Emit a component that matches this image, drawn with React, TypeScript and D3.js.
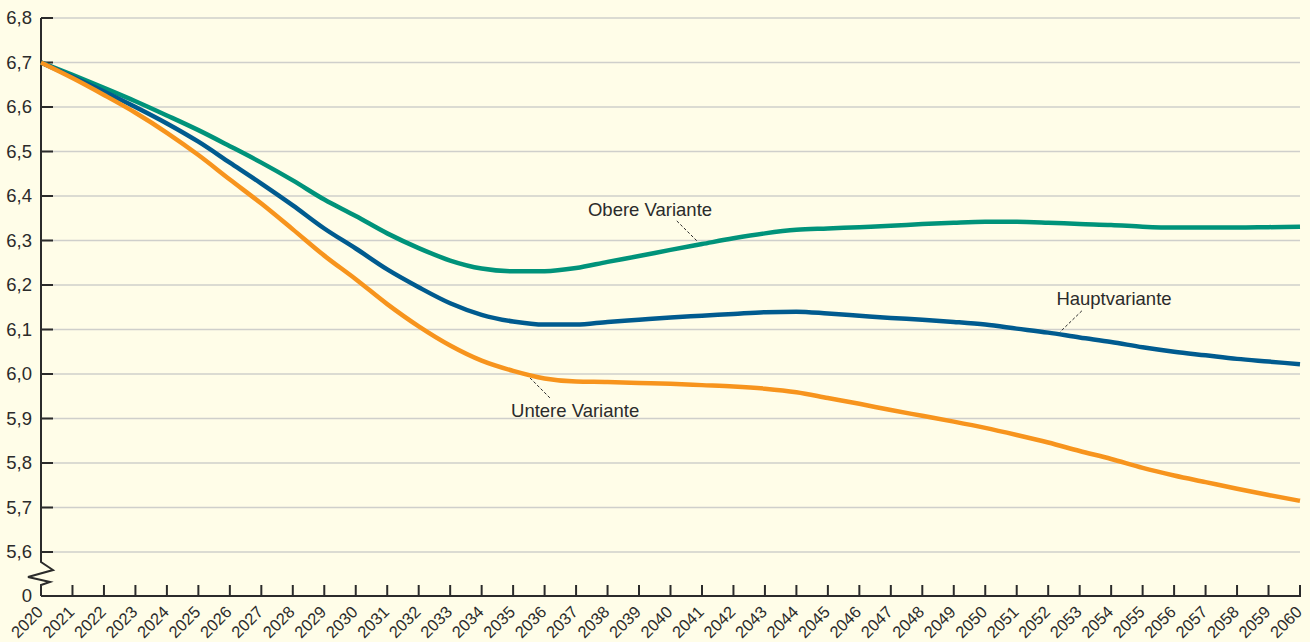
import React, { useEffect, useRef } from "react";
import { select, scaleLinear, line, curveMonotoneX, range } from "d3";

// years 2020..2060
const years = range(2020, 2061);

const obereVariante = [
  6.70, 6.672, 6.643, 6.613, 6.581, 6.548, 6.512, 6.475, 6.435, 6.392,
  6.355, 6.316, 6.283, 6.255, 6.237, 6.231, 6.231, 6.238, 6.252, 6.265,
  6.279, 6.292, 6.305, 6.316, 6.324, 6.327, 6.330, 6.333, 6.337, 6.340,
  6.342, 6.342, 6.340, 6.337, 6.335, 6.331, 6.329, 6.329, 6.329, 6.330,
  6.331
];

const hauptvariante = [
  6.70, 6.668, 6.635, 6.600, 6.563, 6.522, 6.475, 6.428, 6.379, 6.327,
  6.282, 6.235, 6.195, 6.159, 6.133, 6.118, 6.111, 6.111, 6.117, 6.122,
  6.127, 6.131, 6.135, 6.139, 6.140, 6.136, 6.131, 6.126, 6.122, 6.117,
  6.111, 6.102, 6.093, 6.082, 6.072, 6.060, 6.050, 6.042, 6.034, 6.028,
  6.022
];

const untereVariante = [
  6.70, 6.665, 6.627, 6.587, 6.542, 6.492, 6.437, 6.383, 6.325, 6.266,
  6.213, 6.157, 6.107, 6.064, 6.030, 6.007, 5.990, 5.983, 5.982, 5.980,
  5.978, 5.975, 5.972, 5.967, 5.959, 5.946, 5.933, 5.919, 5.906, 5.893,
  5.879, 5.863, 5.846, 5.827, 5.809, 5.789, 5.772, 5.757, 5.742, 5.728,
  5.715
];

const yTicks = [5.6, 5.7, 5.8, 5.9, 6.0, 6.1, 6.2, 6.3, 6.4, 6.5, 6.6, 6.7, 6.8];

const series = [
  { name: "Obere Variante", values: obereVariante, color: "#00937a" },
  { name: "Hauptvariante", values: hauptvariante, color: "#005b8f" },
  { name: "Untere Variante", values: untereVariante, color: "#f7941d" }
];

// label text, label centre (year, value), leader line from/to (year, value)
const labels = [
  { text: "Obere Variante", at: [2039.35, 6.369], from: [2040.2, 6.344], to: [2040.87, 6.297] },
  { text: "Untere Variante", at: [2036.97, 5.919], from: [2035.54, 5.991], to: [2036.2, 5.944] },
  { text: "Hauptvariante", at: [2054.09, 6.169], from: [2053.07, 6.142], to: [2052.37, 6.094] }
];

const fontFamily = "'Liberation Sans', Arial, sans-serif";
const fontSize = 18.5;

function App() {
  const svgRef = useRef(null);

  useEffect(() => {
    const width = 1310;
    const height = 642;
    const left = 41;
    const right = 1300;
    const axisY = 596;

    const svg = select(svgRef.current)
      .attr("width", width)
      .attr("height", height);
    svg.selectAll("*").remove();

    const x = scaleLinear().domain([2020, 2060]).range([left, right]);
    const y = scaleLinear().domain([5.6, 6.8]).range([552, 18]);

    svg.append("rect")
      .attr("width", width)
      .attr("height", height)
      .attr("fill", "#fffde8");

    // gridlines
    svg.append("g")
      .selectAll("line")
      .data(yTicks)
      .join("line")
      .attr("x1", left)
      .attr("x2", right)
      .attr("y1", d => y(d))
      .attr("y2", d => y(d))
      .attr("stroke", "#cfcfcb")
      .attr("stroke-width", 1.5);

    // y tick marks + labels
    const yAxis = svg.append("g");
    yAxis.selectAll("line")
      .data(yTicks)
      .join("line")
      .attr("x1", left)
      .attr("x2", left + 12)
      .attr("y1", d => y(d))
      .attr("y2", d => y(d))
      .attr("stroke", "#2b2b2b")
      .attr("stroke-width", 2);
    yAxis.selectAll("text")
      .data(yTicks)
      .join("text")
      .attr("x", 32)
      .attr("y", d => y(d))
      .attr("dy", "0.35em")
      .attr("text-anchor", "end")
      .attr("font-family", fontFamily)
      .attr("font-size", fontSize)
      .attr("fill", "#2b2b2b")
      .text(d => d.toFixed(1).replace(".", ","));
    yAxis.append("text")
      .attr("x", 32)
      .attr("y", axisY)
      .attr("dy", "0.35em")
      .attr("text-anchor", "end")
      .attr("font-family", fontFamily)
      .attr("font-size", fontSize)
      .attr("fill", "#2b2b2b")
      .text("0");

    // y axis with break
    svg.append("path")
      .attr("d", `M${left},${y(6.8)}V562L${left + 12},570L${left - 13},577L${left + 9},582L${left},585V${axisY}`)
      .attr("fill", "none")
      .attr("stroke", "#2b2b2b")
      .attr("stroke-width", 2);

    // x axis
    svg.append("line")
      .attr("x1", left)
      .attr("x2", right + 1)
      .attr("y1", axisY)
      .attr("y2", axisY)
      .attr("stroke", "#2b2b2b")
      .attr("stroke-width", 2);
    svg.append("g")
      .selectAll("line")
      .data(years.slice(1))
      .join("line")
      .attr("x1", d => x(d))
      .attr("x2", d => x(d))
      .attr("y1", axisY)
      .attr("y2", axisY - 11)
      .attr("stroke", "#2b2b2b")
      .attr("stroke-width", 2);
    svg.append("g")
      .selectAll("text")
      .data(years)
      .join("text")
      .attr("transform", d => `translate(${x(d) + 3},${axisY + 17}) rotate(-45)`)
      .attr("text-anchor", "end")
      .attr("font-family", fontFamily)
      .attr("font-size", 16.5)
      .attr("fill", "#2b2b2b")
      .text(d => d);

    // lines
    const lineGen = line()
      .x((d, i) => x(years[i]))
      .y(d => y(d))
      .curve(curveMonotoneX);
    svg.append("g")
      .selectAll("path")
      .data(series)
      .join("path")
      .attr("d", d => lineGen(d.values))
      .attr("fill", "none")
      .attr("stroke", d => d.color)
      .attr("stroke-width", 4.5);

    // labels with leader lines
    const lab = svg.append("g");
    lab.selectAll("line")
      .data(labels)
      .join("line")
      .attr("x1", d => x(d.from[0]))
      .attr("y1", d => y(d.from[1]))
      .attr("x2", d => x(d.to[0]))
      .attr("y2", d => y(d.to[1]))
      .attr("stroke", "#2b2b2b")
      .attr("stroke-width", 1)
      .attr("stroke-dasharray", "3,2");
    lab.selectAll("text")
      .data(labels)
      .join("text")
      .attr("x", d => x(d.at[0]))
      .attr("y", d => y(d.at[1]))
      .attr("dy", "0.35em")
      .attr("text-anchor", "middle")
      .attr("font-family", fontFamily)
      .attr("font-size", fontSize)
      .attr("fill", "#2b2b2b")
      .text(d => d.text);
  }, []);

  return (
    <svg ref={svgRef} style={{ position: "absolute", left: 0, top: 0, display: "block" }}></svg>
  );
}

export default App;
